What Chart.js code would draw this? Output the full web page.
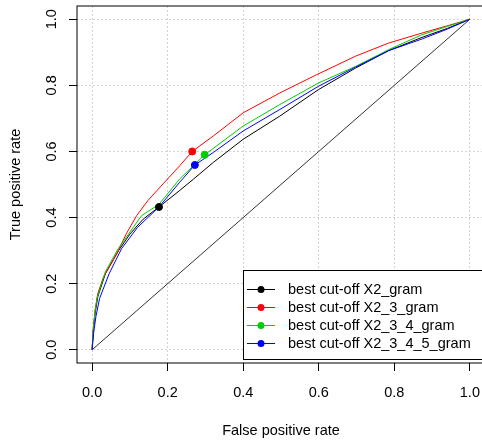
<!DOCTYPE html>
<html>
<head>
<meta charset="utf-8">
<script src="https://cdn.jsdelivr.net/npm/chart.js@4"></script>
<style>
html, body { margin: 0; padding: 0; background: #fff; overflow: hidden; }
#wrap { width: 482px; height: 441px; overflow: hidden; }
</style>
</head>
<body>
<div id="wrap"><canvas id="rocChart" width="495" height="441"></canvas></div>
<script>
const tickValues = [0, 0.2, 0.4, 0.6, 0.8, 1];
const seriesLabels = ['best cut-off X2_gram', 'best cut-off X2_3_gram', 'best cut-off X2_3_4_gram', 'best cut-off X2_3_4_5_gram'];
const seriesColors = ['#000000', '#ff0000', '#00cd00', '#0000ff'];

// ROC curves (false positive rate / true positive rate)
const fprX2 = [0, 0.003, 0.008, 0.015, 0.035, 0.07, 0.1, 0.135, 0.177, 0.232, 0.268, 0.321, 0.4, 0.497, 0.599, 0.697, 0.785, 0.873, 0.94, 1];
const tprX2 = [0, 0.06, 0.11, 0.16, 0.23, 0.3, 0.35, 0.395, 0.432, 0.482, 0.516, 0.567, 0.637, 0.707, 0.787, 0.852, 0.905, 0.945, 0.972, 1];
const fprX23 = [0, 0.003, 0.008, 0.015, 0.03, 0.05, 0.065, 0.09, 0.118, 0.148, 0.188, 0.232, 0.265, 0.321, 0.4, 0.497, 0.594, 0.697, 0.785, 0.873, 0.94, 1];
const tprX23 = [0, 0.06, 0.12, 0.17, 0.22, 0.26, 0.29, 0.35, 0.406, 0.452, 0.502, 0.557, 0.6, 0.647, 0.717, 0.777, 0.832, 0.888, 0.928, 0.958, 0.98, 1];
const fprX234 = [0, 0.003, 0.008, 0.013, 0.035, 0.069, 0.1, 0.131, 0.177, 0.232, 0.298, 0.365, 0.4, 0.497, 0.599, 0.697, 0.785, 0.873, 0.94, 1];
const tprX234 = [0, 0.06, 0.12, 0.156, 0.236, 0.306, 0.356, 0.406, 0.44, 0.517, 0.59, 0.647, 0.677, 0.742, 0.807, 0.857, 0.908, 0.953, 0.978, 1];
const fprX2345 = [0, 0.004, 0.01, 0.02, 0.045, 0.078, 0.12, 0.177, 0.232, 0.272, 0.321, 0.4, 0.497, 0.599, 0.697, 0.785, 0.873, 0.94, 1];
const tprX2345 = [0, 0.05, 0.1, 0.156, 0.23, 0.306, 0.37, 0.432, 0.507, 0.559, 0.597, 0.662, 0.727, 0.797, 0.855, 0.905, 0.94, 0.97, 1];

// best cut-off points, same order as seriesLabels
const cutoffFpr = [0.177, 0.265, 0.298, 0.272];
const cutoffTpr = [0.432, 0.6, 0.59, 0.559];

const diagFpr = [0, 1];
const diagTpr = [0, 1];

const fontFamily = '"Liberation Sans", Arial, sans-serif';
const curves = [[fprX2, tprX2], [fprX23, tprX23], [fprX234, tprX234], [fprX2345, tprX2345]];
const toPoints = (xs, ys) => xs.map((x, i) => ({ x: x, y: ys[i] }));

const datasets = [{
    label: 'chance',
    data: toPoints(diagFpr, diagTpr),
    borderColor: '#333333',
    borderWidth: 1,
    pointRadius: 0,
    showLine: true,
    order: 10
}];
curves.forEach((c, i) => {
    datasets.push({
        label: seriesLabels[i],
        data: toPoints(c[0], c[1]),
        borderColor: seriesColors[i],
        borderWidth: 1,
        pointRadius: 0,
        showLine: true,
        order: 8 - i
    });
    datasets.push({
        label: seriesLabels[i] + ' point',
        data: [{ x: cutoffFpr[i], y: cutoffTpr[i] }],
        backgroundColor: seriesColors[i],
        borderColor: seriesColors[i],
        pointRadius: 3.5,
        showLine: false,
        order: 0
    });
});

// box round the plot region + R-style legend in the bottom right
const boxAndLegend = {
    id: 'boxAndLegend',
    afterDraw(chart) {
        const { ctx, chartArea: a } = chart;
        ctx.save();
        ctx.strokeStyle = '#000';
        ctx.lineWidth = 1;
        ctx.strokeRect(a.left, a.top, a.right - a.left, a.bottom - a.top);

        const lx = a.right - 242, lh = 89, ly = a.bottom - 4 - lh;
        ctx.fillStyle = '#fff';
        ctx.fillRect(lx, ly, 300, lh);
        ctx.strokeRect(lx + 0.5, ly + 0.5, 300, lh);
        ctx.font = '14.5px ' + fontFamily;
        ctx.textBaseline = 'middle';
        ctx.textAlign = 'left';
        seriesLabels.forEach((lab, i) => {
            const y = ly + 19.5 + i * 18;
            ctx.strokeStyle = seriesColors[i];
            ctx.beginPath();
            ctx.moveTo(lx + 4, y);
            ctx.lineTo(lx + 32, y);
            ctx.stroke();
            ctx.fillStyle = seriesColors[i];
            ctx.beginPath();
            ctx.arc(lx + 18, y, 3.5, 0, Math.PI * 2);
            ctx.fill();
            ctx.fillStyle = '#000';
            ctx.fillText(lab, lx + 45, y);
        });
        ctx.restore();
    }
};

const axisFont = { family: fontFamily, size: 14.5 };

new Chart(document.getElementById('rocChart').getContext('2d'), {
    type: 'scatter',
    data: { datasets: datasets },
    options: {
        responsive: false,
        animation: false,
        layout: { padding: { top: 6, right: 10, left: 0, bottom: 0 } },
        plugins: {
            legend: { display: false },
            tooltip: { enabled: false }
        },
        scales: {
            x: {
                type: 'linear',
                min: -0.04,
                max: 1.04,
                afterBuildTicks: s => { s.ticks = tickValues.map(v => ({ value: v })); },
                afterFit: s => { s.height = 78; s.paddingLeft = 0; s.paddingRight = 0; },
                ticks: { callback: v => v.toFixed(1), color: '#000', font: axisFont, padding: 13, maxRotation: 0, autoSkip: false },
                grid: { color: '#d3d3d3', lineWidth: 1, tickLength: 8, tickColor: '#000', tickWidth: 1 },
                border: { display: false, dash: [2, 2] },
                title: { display: true, text: 'False positive rate', color: '#000', font: axisFont, padding: { top: 0, bottom: 1 } }
            },
            y: {
                type: 'linear',
                min: -0.04,
                max: 1.04,
                afterBuildTicks: s => { s.ticks = tickValues.map(v => ({ value: v })); },
                afterFit: s => { s.width = 77; s.paddingTop = 0; s.paddingBottom = 0; },
                ticks: { callback: v => v.toFixed(1), color: '#000', font: axisFont, padding: 7, minRotation: 90, maxRotation: 90, crossAlign: 'center', autoSkip: false },
                grid: { color: '#d3d3d3', lineWidth: 1, tickLength: 8, tickColor: '#000', tickWidth: 1 },
                border: { display: false, dash: [2, 2] },
                title: { display: true, text: 'True positive rate', color: '#000', font: axisFont, padding: { top: 7, bottom: 0 } }
            }
        }
    },
    plugins: [boxAndLegend]
});
</script>
</body>
</html>
